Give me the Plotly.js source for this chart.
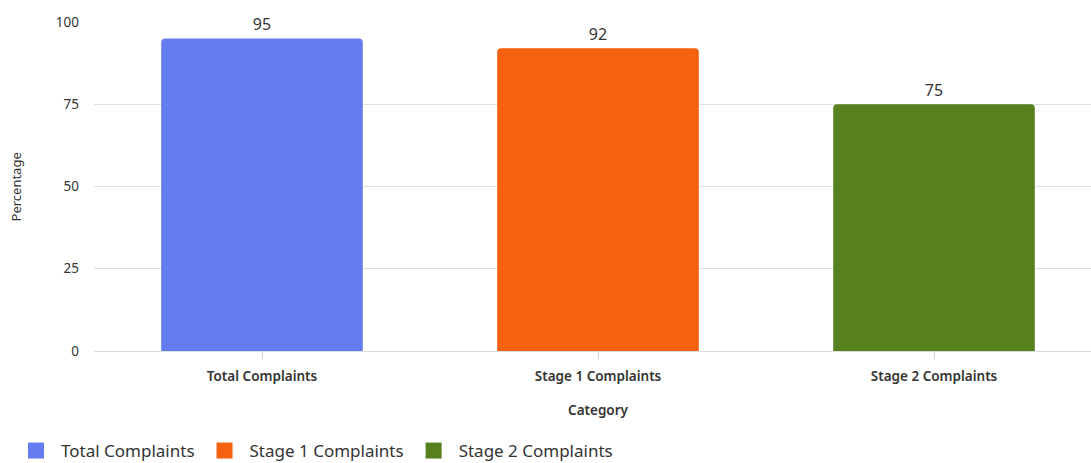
<!DOCTYPE html>
<html>
<head>
<meta charset="utf-8">
<script src="https://cdn.plot.ly/plotly-3.0.1.min.js"></script>
<style>
html,body{margin:0;padding:0;overflow:hidden;background:#fff;width:1091px;height:463px;}
#chart{width:1102px;height:469px;}
</style>
</head>
<body>
<div id="chart"></div>
<script>
const categories = ["Total Complaints", "Stage 1 Complaints", "Stage 2 Complaints"];
const values = [95, 92, 75];
const colors = ["#647cf0", "#f5610f", "#57801e"];
const yTicks = [0, 25, 50, 75, 100];
const yTitle = "Percentage";
const xTitle = "Category";

const FONT = "Noto Sans, Open Sans, sans-serif";

const barTraces = categories.map((c, i) => ({
  type: "bar",
  name: c,
  legendgroup: c,
  showlegend: false,
  x: [c],
  y: [values[i]],
  width: 0.6,
  marker: {color: colors[i]},
  text: [String(values[i])],
  textposition: "outside",
  cliponaxis: false,
  textfont: {family: FONT, size: 16, color: "#333"},
  hoverinfo: "x+y"
}));

// legend entries with square swatches
const legendTraces = categories.map((c, i) => ({
  type: "scatter",
  mode: "markers",
  name: c,
  legendgroup: c,
  showlegend: true,
  x: [null],
  y: [null],
  marker: {symbol: "square", size: 16, color: colors[i]},
  hoverinfo: "skip"
}));

const layout = {
  width: 1102,
  height: 469,
  margin: {l: 94, r: 0, t: 22, b: 118},
  paper_bgcolor: "#fff",
  plot_bgcolor: "#fff",
  barmode: "overlay",
  barcornerradius: 4,
  font: {family: FONT, color: "#333"},
  xaxis: {
    type: "category",
    categoryarray: categories,
    categoryorder: "array",
    showgrid: false,
    showline: true,
    linecolor: "#dcdcdc",
    linewidth: 1,
    ticks: "outside",
    ticklen: 7,
    tickcolor: "#d0d0d0",
    tickfont: {family: FONT, size: 13.5, color: "#333", weight: 600},
    ticklabelstandoff: 6,
    title: {text: xTitle, font: {family: FONT, size: 13.5, color: "#333", weight: 600}, standoff: 21},
    zeroline: false
  },
  yaxis: {
    range: [0, 100],
    tickvals: yTicks,
    ticktext: yTicks.map(String),
    showgrid: true,
    gridcolor: "#e0e0e0",
    gridwidth: 1,
    zeroline: true,
    zerolinecolor: "#dcdcdc",
    showline: false,
    ticks: "",
    tickfont: {family: FONT, size: 13.5, color: "#333"},
    ticklabelstandoff: 14
  },
  annotations: [{
    text: yTitle,
    xref: "paper",
    yref: "paper",
    x: -0.0774,
    y: 0.5,
    xanchor: "center",
    yanchor: "middle",
    textangle: -90,
    showarrow: false,
    font: {family: FONT, size: 13, color: "#333"}
  }],
  showlegend: true,
  legend: {
    orientation: "h",
    xref: "container",
    yref: "container",
    x: 0.01,
    y: 0,
    xanchor: "left",
    yanchor: "bottom",
    font: {family: FONT, size: 17, color: "#333"},
    traceorder: "normal",
    itemwidth: 40
  }
};

Plotly.newPlot("chart", barTraces.concat(legendTraces), layout, {displayModeBar: false, responsive: false});
</script>
</body>
</html>
